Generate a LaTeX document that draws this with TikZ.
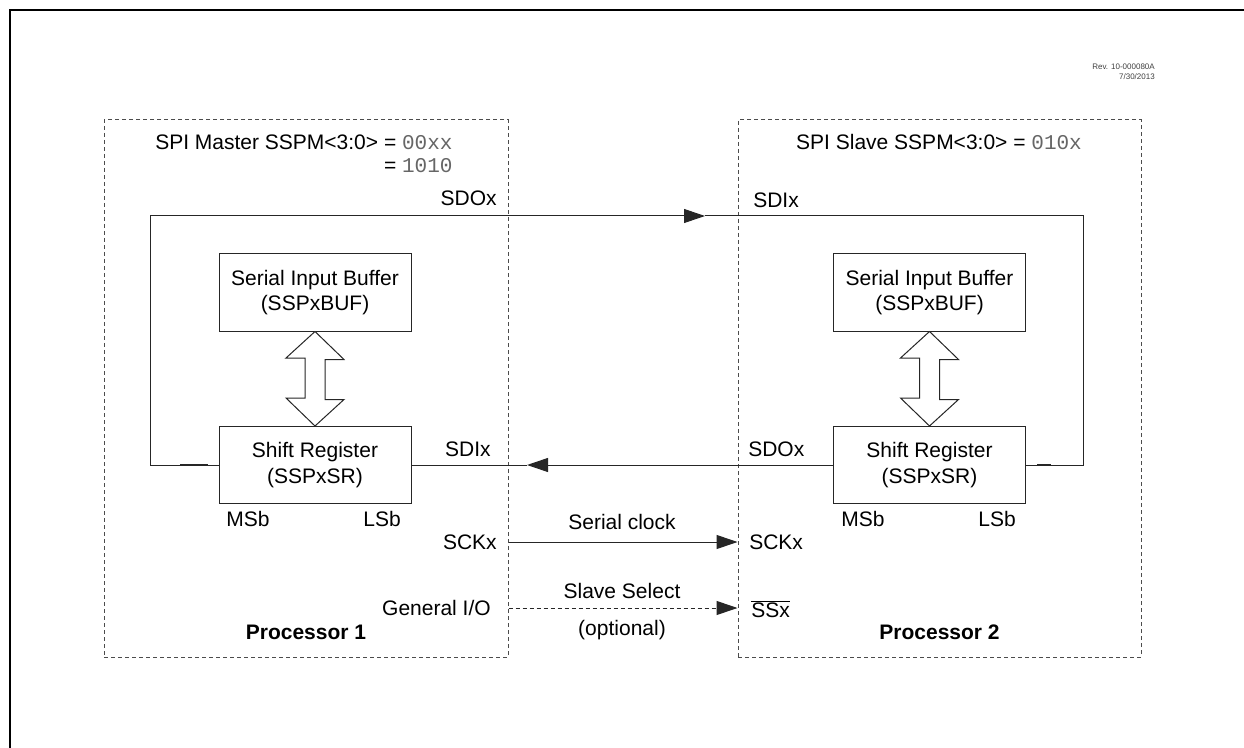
\documentclass[tikz,border=0pt]{standalone}
\usepackage{fontspec}
\setmainfont{Liberation Sans}
\setmonofont{Liberation Mono}
\usetikzlibrary{arrows.meta,positioning}
\definecolor{codeGray}{gray}{0.4}
\newcommand{\code}[1]{{\ttfamily\color{codeGray}#1}}

\begin{document}
\begin{tikzpicture}[
  x=0.75pt,y=-0.75pt,
  font=\fontsize{15.75}{19}\selectfont,
  regBox/.style={rectangle,draw=black!85,line width=0.75pt,minimum width=144pt,minimum height=57.75pt,align=center,inner sep=0pt},
  procBox/.style={rectangle,draw=black!70,dash pattern=on 3pt off 2.25pt,line width=0.75pt,minimum width=303pt,minimum height=402.75pt,inner sep=0pt},
  lbl/.style={inner sep=0pt},
  procLbl/.style={inner sep=0pt,font=\fontsize{15.75}{19}\selectfont\bfseries},
  wire/.style={draw=black!85,line width=0.75pt},
  arrow/.style={wire,-{Triangle[length=15.75pt,width=10.5pt]}},
  selArrow/.style={arrow,dash pattern=on 3pt off 2.25pt},
  hollow/.style={draw=black!85,line width=0.75pt,fill=white,line join=miter}
]
\useasboundingbox (0,0) rectangle (1244,748);
% page frame
\draw[line width=2pt] (10,748) -- (10,10) -- (1244,10);
\node[lbl,anchor=north east,align=right,font=\fontsize{6}{7.5}\selectfont,text=black!75] (rev) at (1155,64) {Rev. 10-000080A\\7/30/2013};

% processors
\node[procBox] (p1) at (306,388.5) {};
\node[procBox,minimum width=302.25pt] (p2) at (939.5,388.5) {};
\node[lbl,anchor=west] (m1) at (155,142) {SPI Master SSPM<3:0> = \code{00xx}};
\node[lbl,anchor=east] (m2) at (m1.east |- 0,166) {= \code{1010}};
\node[lbl] (s1) at (939,142) {SPI Slave SSPM<3:0> = \code{010x}};

\node[regBox] (buf1) at (315,292.5) {Serial Input Buffer\\(SSPxBUF)};
\node[regBox] (sr1) at (315,465) {Shift Register\\(SSPxSR)};
\node[regBox] (buf2) at (929.5,292.5) {Serial Input Buffer\\(SSPxBUF)};
\node[regBox] (sr2) at (929.5,465) {Shift Register\\(SSPxSR)};

% hollow double arrows
\draw[hollow] (buf1.south) -- ++(29,28) -- ++(-19,0) -- ++(0,40) -- ++(19,0) -- (sr1.north) -- ++(-29,-28) -- ++(19,0) -- ++(0,-40) -- ++(-19,0) -- cycle;
\draw[hollow] (buf2.south) -- ++(29,28) -- ++(-19,0) -- ++(0,40) -- ++(19,0) -- (sr2.north) -- ++(-29,-28) -- ++(19,0) -- ++(0,-40) -- ++(-19,0) -- cycle;

% pin labels
\node[lbl,anchor=east] (sdo1) at (497,198) {SDOx};
\node[lbl,anchor=west] (sdi2) at (753,200) {SDIx};
\node[lbl,anchor=east] (sdi1) at (491,449) {SDIx};
\node[lbl,anchor=west] (sdo2) at (748,449) {SDOx};
\node[lbl,anchor=west] (msb1) at (226,519) {MSb};
\node[lbl,anchor=east] (lsb1) at (401,519) {LSb};
\node[lbl,anchor=west] (msb2) at (841,519) {MSb};
\node[lbl,anchor=east] (lsb2) at (1016,519) {LSb};
\node[lbl,anchor=east] (sck1) at (497,542) {SCKx};
\node[lbl,anchor=west] (sck2) at (749,542) {SCKx};
\node[lbl] (clk) at (622,522) {Serial clock};
\node[lbl,anchor=east] (gio) at (491,608) {General I/O};
\node[lbl,anchor=base west] (ss2) at (751,617.5) {$\overline{\mbox{SSx}}$};
\node[lbl] (sel) at (622,591) {Slave Select};
\node[lbl] (opt) at (622,630) {(optional)};
\node[procLbl] (proc1) at (306,632) {Processor 1};
\node[procLbl] (proc2) at (939.5,632) {Processor 2};

% data lines
\coordinate (sdoTip) at (705,216);
\coordinate (sdiTip) at (527,465);
\draw[arrow] (sr1.west) -| (150,216) -- (sdoTip);
\draw[wire] (sdoTip) -- (1083,216) |- (sr2.east);
\draw[arrow] (sr2.west) -- (sdiTip);
\draw[wire] (sdiTip) -- (sr1.east);
\draw[line width=1.4pt,black!85] (180,465) -- (208,465);
\draw[line width=1.4pt,black!85] (1037,465) -- (1051,465);
\draw[arrow] (sck1 -| p1.east) -- (sck2 -| p2.west);
\draw[selArrow] (gio -| p1.east) -- (gio -| p2.west);
\end{tikzpicture}
\end{document}
